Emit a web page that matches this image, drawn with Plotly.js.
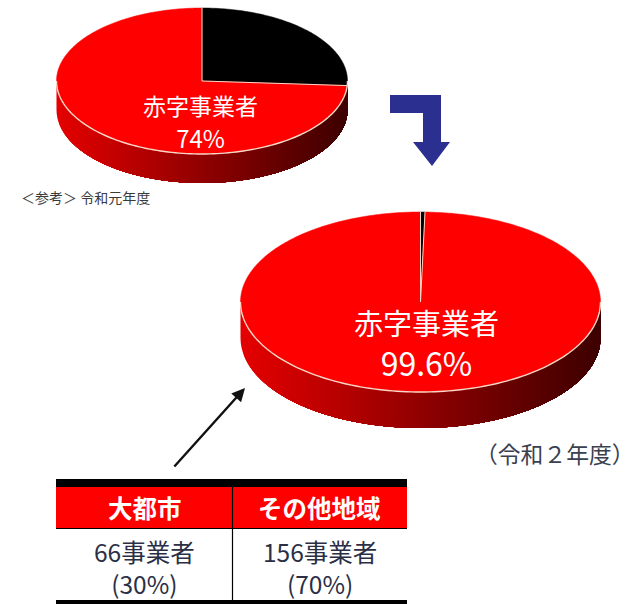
<!DOCTYPE html>
<html lang="ja">
<head>
<meta charset="utf-8">
<script src="https://cdn.plot.ly/plotly-3.0.1.min.js"></script>
<style>html,body{margin:0;padding:0;background:#fff}#chart{width:636px;height:604px}</style>
</head>
<body>
<div id="chart"></div>
<script>
// Share of operators in deficit, by fiscal year (percent)
const sliceLabels = ['その他', '赤字事業者'];
const sharesReiwa1 = [26, 74];
const sharesReiwa2 = [0.4, 99.6];
const sliceColors = ['#000000', '#ff0000'];

// Breakdown of the deficit operators
const regionNames = ['大都市', 'その他地域'];
const operatorCounts = [66, 156];
const operatorShares = [30, 70];

const FONT = '"Noto Sans CJK JP", "Noto Sans", sans-serif';
const EDGE = '#f6d8c8';

function ellipsePoint(d, t, dy) {
  return [d.cx + d.rx * Math.cos(t), d.cy + d.ry * Math.sin(t) + (dy || 0)];
}

// Side wall of a tilted disc. Each band reaches to the right end and is painted
// over the previous one, so the shading runs from bright red to maroon without seams.
function wallTraces(d) {
  const out = [], n = 110;
  for (let i = 0; i < n; i++) {
    const f = i / n;
    const a = Math.PI - Math.acos(1 - 2 * f);
    const upper = [], lower = [];
    const steps = 60;
    for (let j = 0; j <= steps; j++) {
      const t = a * (1 - j / steps);
      upper.push(ellipsePoint(d, t));
      lower.push(ellipsePoint(d, t, d.depth));
    }
    const p = upper.concat(lower.reverse());
    p.push(p[0]);
    const r = Math.round(228 - 168 * f);
    out.push({
      type: 'scatter', mode: 'lines', x: p.map(q => q[0]), y: p.map(q => q[1]),
      fill: 'toself', fillcolor: `rgb(${r},0,0)`, line: {width: 0, simplify: false},
      hoverinfo: 'skip', showlegend: false
    });
  }
  return out;
}

// Top face: slices run clockwise from twelve o'clock, sized by their share
function sliceTraces(d, shares) {
  const total = shares.reduce((s, v) => s + v, 0);
  const out = [], outline = [];
  let start = -Math.PI / 2;
  shares.forEach((v, k) => {
    const end = start + 2 * Math.PI * v / total;
    const steps = Math.max(2, Math.ceil((end - start) * 60));
    const xs = [d.cx], ys = [d.cy];
    for (let j = 0; j <= steps; j++) {
      const q = ellipsePoint(d, start + (end - start) * j / steps);
      xs.push(q[0]); ys.push(q[1]);
    }
    xs.push(d.cx); ys.push(d.cy);
    out.push({
      type: 'scatter', mode: 'lines', x: xs, y: ys, name: sliceLabels[k],
      fill: 'toself', fillcolor: sliceColors[k],
      line: {color: sliceColors[k], width: 0.5, simplify: false},
      hoverinfo: 'skip', showlegend: false
    });
    const q = ellipsePoint(d, start);
    outline.push({
      type: 'scatter', mode: 'lines', x: [d.cx, q[0]], y: [d.cy, q[1]],
      line: {color: EDGE, width: 1}, hoverinfo: 'skip', showlegend: false
    });
    start = end;
  });
  // Lit rim along the front half of the disc
  const rimX = [], rimY = [];
  for (let j = 0; j <= 120; j++) {
    const q = ellipsePoint(d, Math.PI * j / 120);
    rimX.push(q[0]); rimY.push(q[1]);
  }
  outline.push({
    type: 'scatter', mode: 'lines', x: rimX, y: rimY,
    line: {color: EDGE, width: 1.4, simplify: false}, hoverinfo: 'skip', showlegend: false
  });
  return out.concat(outline);
}

const discTop = {cx: 202, cy: 81, rx: 145.5, ry: 73, depth: 29};
const discBig = {cx: 420.5, cy: 302, rx: 180, ry: 90, depth: 36};

const traces = [
  ...wallTraces(discTop), ...sliceTraces(discTop, sharesReiwa1),
  ...wallTraces(discBig), ...sliceTraces(discBig, sharesReiwa2)
];

const span = (s, size) => `<span style="font-size:${size}px">${s}</span>`;
const text = (x, y, s, size, color) => ({
  xref: 'x', yref: 'y', x, y, text: s, showarrow: false,
  xanchor: 'center', yanchor: 'middle',
  font: {family: FONT, size, color}
});

// Breakdown table: column edges and rows
const colEdges = [56, 232.5, 407];
const colMiddles = [144.5, 319.5];
const tableRules = [
  {type: 'rect', xref: 'x', yref: 'y', layer: 'below', x0: 56, x1: 407, y0: 487, y1: 528, fillcolor: '#ff0000', line: {width: 0}},
  {type: 'rect', xref: 'x', yref: 'y', layer: 'above', x0: 56, x1: 407, y0: 479, y1: 487, fillcolor: '#000', line: {width: 0}},
  {type: 'line', xref: 'x', yref: 'y', layer: 'above', x0: 56, x1: 407, y0: 528.5, y1: 528.5, line: {color: '#000', width: 1.2}},
  {type: 'line', xref: 'x', yref: 'y', layer: 'above', x0: colEdges[1], x1: colEdges[1], y0: 487, y1: 604, line: {color: '#000', width: 1.2}},
  {type: 'rect', xref: 'x', yref: 'y', layer: 'above', x0: 56, x1: 407, y0: 600, y1: 604, fillcolor: '#000', line: {width: 0}}
];

const layout = {
  width: 636, height: 604,
  margin: {l: 0, r: 0, t: 0, b: 0},
  paper_bgcolor: '#ffffff', plot_bgcolor: '#ffffff',
  showlegend: false,
  xaxis: {range: [0, 636], visible: false, fixedrange: true},
  yaxis: {range: [604, 0], visible: false, fixedrange: true},
  annotations: [
    text(200.5, 121, span(sliceLabels[1], 23) + '<br>' + span(sharesReiwa1[1] + '%', 24), 25, '#ffffff'),
    text(426.5, 342.5, span(sliceLabels[1], 29) + '<br>' + span(sharesReiwa2[1] + '%', 32), 31.5, '#ffffff'),
    text(85, 197, '＜参考＞ 令和元年度', 14, '#3a3a3a'),
    text(555, 453, '（令和２年度）', 22.8, '#3a4050'),
    ...regionNames.map((s, i) => text(colMiddles[i], 507, '<b>' + s + '</b>', 24.5, '#ffffff')),
    ...regionNames.map((_, i) => text(colMiddles[i], 567,
      span(operatorCounts[i] + '事業者', 24.5) + '<br>' + span('(' + operatorShares[i] + '%)', 24.5), 24.5, '#2a2f45')),
    {
      xref: 'x', yref: 'y', axref: 'x', ayref: 'y',
      x: 245, y: 388, ax: 173, ay: 468, text: '',
      showarrow: true, arrowhead: 2, arrowsize: 1.1, arrowwidth: 2.4, arrowcolor: '#111111'
    }
  ],
  shapes: [
    // Turn-down arrow between the two years
    {type: 'path', xref: 'x', yref: 'y', layer: 'above',
     path: 'M390 95 L441 95 L441 142 L450 142 L432 166 L413 142 L423 142 L423 113 L390 113 Z',
     fillcolor: '#2b3090', line: {width: 0}},
    ...tableRules
  ]
};

Plotly.newPlot('chart', traces, layout, {displayModeBar: false, staticPlot: true});
</script>
</body>
</html>
